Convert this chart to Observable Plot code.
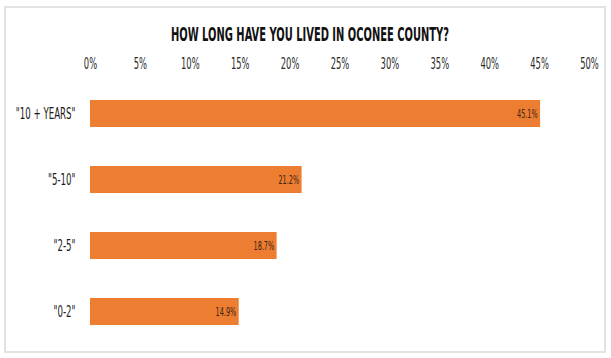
<!DOCTYPE html>
<html><head><meta charset="utf-8">
<script src="https://cdn.jsdelivr.net/npm/d3@7"></script>
<script src="https://cdn.jsdelivr.net/npm/@observablehq/plot@0.6"></script>
<style>
body{margin:0;background:#fff;}
#wrap{position:relative;width:611px;height:358px;}
#border{position:absolute;left:4px;top:6px;width:598px;height:343px;border:2px solid #e3e3e3;pointer-events:none;}
svg text{font-stretch:condensed;}
</style></head>
<body><div id="wrap"><div id="border"></div></div>
<script>
const title = "HOW LONG HAVE YOU LIVED IN OCONEE COUNTY?";
const categories = ['"10 + YEARS"', '"5-10"', '"2-5"', '"0-2"'];
const values = [45.1, 21.2, 18.7, 14.9];
const labels = ["45.1%", "21.2%", "18.7%", "14.9%"];
const xTicks = [0,5,10,15,20,25,30,35,40,45,50];

const data = categories.map((c,i)=>({cat:c, v:values[i], label:labels[i]}));

const chart = Plot.plot({
  width: 611, height: 358,
  marginLeft: 90, marginRight: 22, marginTop: 70, marginBottom: 12,
  style: {fontFamily: '"DejaVu Sans Condensed","DejaVu Sans",sans-serif', background: "transparent"},
  x: {domain:[0,50], axis: null, label: null},
  y: {domain: categories, range:[80,346], paddingInner: 0.59, paddingOuter: 0.295, axis: null, label: null},
  marks: [
    Plot.ruleX(xTicks, {y1: 70, y2: 346, stroke:"#d9d9d9", strokeWidth:1.5, strokeOpacity:1}),
    Plot.axisX(xTicks, {anchor:"top", label: null, tickSize:0, tickPadding:2, tickFormat: d=>d+"%", fontSize:15.5, fill:"#2a2a2a", className:"sq"}),
    Plot.barX(data, {x:"v", y:"cat", fill:"#ED7D31"}),
    Plot.axisY({label: null, tickSize:0, tickPadding:15, fontSize:16, fill:"#1a1a1a", className:"sq"}),
    Plot.text(data, {x:"v", y:"cat", text:"label", textAnchor:"end", dx:-3, fontSize:12, fill:"#3a2414", className:"sq"}),
    Plot.text([title], {frameAnchor:"top", dx:-30, dy:-43, fontSize:19, fontWeight:"bold", fill:"#111", className:"ttl"})
  ]
});
document.getElementById("wrap").prepend(chart);
d3.select(chart).selectAll("g.ttl text").attr("textLength", 278).attr("lengthAdjust", "spacingAndGlyphs");
d3.select(chart).selectAll("g.sq text").each(function(){
  const w = this.getComputedTextLength();
  if (w > 0) d3.select(this).attr("textLength", w * 0.6).attr("lengthAdjust", "spacingAndGlyphs");
});
</script></body></html>
